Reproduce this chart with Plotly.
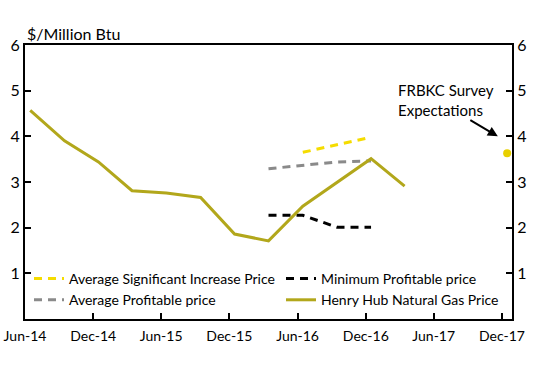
import plotly.graph_objects as go

# ---- data ----
hh_dates = ["2014-06-15", "2014-09-15", "2014-12-15", "2015-03-15", "2015-06-15", "2015-09-15",
            "2015-12-15", "2016-03-15", "2016-06-15", "2016-09-15", "2016-12-15", "2017-03-15"]
hh_values = [4.57, 3.90, 3.44, 2.81, 2.76, 2.66, 1.86, 1.71, 2.47, 2.99, 3.51, 2.91]

min_prof_dates = ["2016-03-15", "2016-06-15", "2016-09-15", "2016-12-15"]
min_prof_values = [2.27, 2.27, 2.01, 2.01]

avg_prof_dates = ["2016-03-15", "2016-06-15", "2016-09-15", "2016-12-15"]
avg_prof_values = [3.29, 3.37, 3.44, 3.46]

avg_sig_dates = ["2016-06-15", "2016-09-15", "2016-12-15"]
avg_sig_values = [3.65, 3.82, 3.98]

survey_dates = ["2017-12-15"]
survey_values = [3.63]

tick_dates = ["2014-06-01", "2014-12-01", "2015-06-01", "2015-12-01", "2016-06-01",
              "2016-12-01", "2017-06-01", "2017-12-01"]
tick_labels = ["Jun-14", "Dec-14", "Jun-15", "Dec-15", "Jun-16", "Dec-16", "Jun-17", "Dec-17"]
y_ticks = [1, 2, 3, 4, 5, 6]

FONT = "Lato"
OLIVE = "#b2a71b"
YELLOW = "#f5dc00"
GRAY = "#8a8a8a"

fig = go.Figure()
fig.add_trace(go.Scatter(x=avg_sig_dates, y=avg_sig_values, mode="lines",
                         name="Average Significant Increase Price",
                         line=dict(color=YELLOW, width=3, dash="8px,6px"), legend="legend"))
fig.add_trace(go.Scatter(x=avg_prof_dates, y=avg_prof_values, mode="lines",
                         name="Average Profitable price",
                         line=dict(color=GRAY, width=3, dash="8px,6px"), legend="legend"))
fig.add_trace(go.Scatter(x=min_prof_dates, y=min_prof_values, mode="lines",
                         name="Minimum Profitable price",
                         line=dict(color="black", width=3, dash="8px,6px"), legend="legend2"))
fig.add_trace(go.Scatter(x=hh_dates, y=hh_values, mode="lines",
                         name="Henry Hub Natural Gas Price",
                         line=dict(color=OLIVE, width=3), legend="legend2"))
fig.add_trace(go.Scatter(x=survey_dates, y=survey_values, mode="markers",
                         name="FRBKC Survey Expectations", showlegend=False,
                         marker=dict(color="#e8d000", size=8), yaxis="y2"))

W, H = 550, 371
L, T, R, B = 25, 45, 38, 52
PW = W - L - R
PH = H - T - B


def px_x(x):  # window x -> paper fraction
    return (x - L) / PW


def px_y(y):  # window y -> paper fraction
    return 1 - (y - T) / PH


fig.update_layout(
    width=W, height=H,
    autosize=False,
    margin=dict(l=L, r=R, t=T, b=B, autoexpand=False),
    plot_bgcolor="white", paper_bgcolor="white",
    font=dict(family=FONT, size=14, color="black"),
    xaxis=dict(type="date", range=["2014-06-01", "2017-12-28"],
               tickvals=tick_dates, ticktext=tick_labels,
               ticks="inside", ticklen=6, tickwidth=1.5, tickcolor="black",
               showline=True, linecolor="black", linewidth=2, mirror=True,
               showgrid=False, zeroline=False, tickfont=dict(size=14),
               ticklabelstandoff=3),
    yaxis=dict(range=[0, 6], tickvals=y_ticks, ticks="inside", ticklen=6, tickwidth=1.5,
               tickcolor="black", showline=True, linecolor="black", linewidth=2,
               showgrid=False, zeroline=False, tickfont=dict(size=16)),
    yaxis2=dict(range=[0, 6], tickvals=y_ticks, ticks="inside", ticklen=6, tickwidth=1.5,
                tickcolor="black", showline=True, linecolor="black", linewidth=2,
                showgrid=False, zeroline=False, overlaying="y", side="right",
                tickfont=dict(size=16)),
    legend=dict(x=px_x(29), y=px_y(263),
                xanchor="left", yanchor="top", bgcolor="rgba(0,0,0,0)",
                font=dict(size=14), itemwidth=30, tracegroupgap=0),
    legend2=dict(x=px_x(281), y=px_y(263),
                 xanchor="left", yanchor="top", bgcolor="rgba(0,0,0,0)",
                 font=dict(size=14), itemwidth=30, tracegroupgap=0),
    annotations=[
        dict(text="$/Million Btu", xref="paper", yref="paper", x=0, y=1,
             xanchor="left", yanchor="bottom", showarrow=False, font=dict(size=16)),
        dict(text="FRBKC Survey<br>Expectations", xref="paper", yref="paper",
             x=px_x(396), y=px_y(100), xanchor="left", yanchor="middle",
             align="left", showarrow=False, font=dict(size=15)),
        dict(text="", x="2017-11-20", y=4.0, xref="x", yref="y", showarrow=True,
             arrowhead=2, arrowsize=1, arrowwidth=2, arrowcolor="black", ax=-29, ay=-17),
    ],
)

fig.write_html("out.html", config={"displayModeBar": False},
               post_script="document.body.style.margin='0';document.body.style.overflow='hidden';")
